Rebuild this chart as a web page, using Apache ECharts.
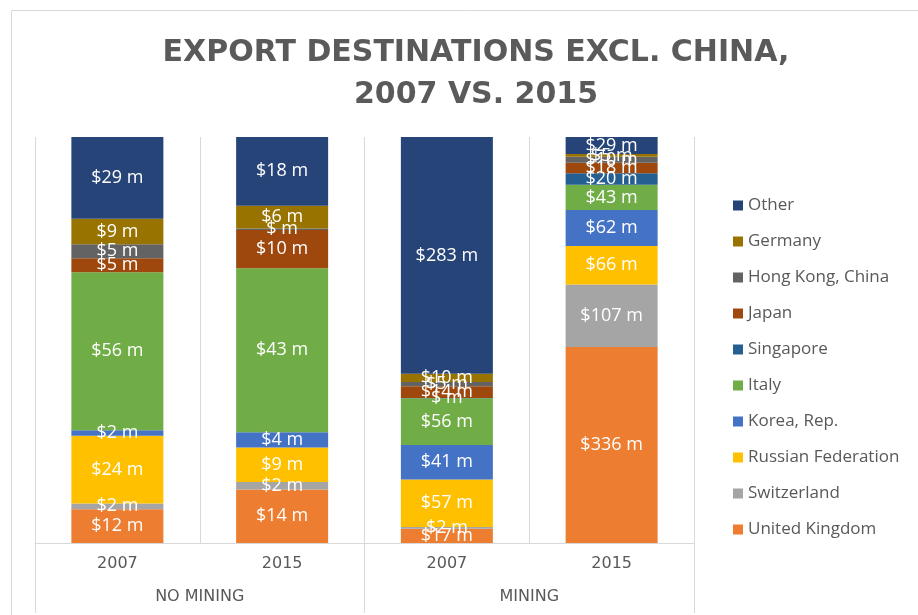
<!DOCTYPE html>
<html>
<head>
<meta charset="utf-8">
<script src="https://cdn.jsdelivr.net/npm/echarts@6/dist/echarts.min.js"></script>
<style>
  html, body { margin: 0; padding: 0; background: #fff; }
  #chart { width: 918px; height: 615px; }
</style>
</head>
<body>
<div id="chart"></div>
<script>
// values in $ million
var categories = ['2007', '2015', '2007', '2015'];
var groups = ['NO MINING', 'MINING'];

var unitedKingdom = [12, 14, 17, 336];
var switzerland = [2, 2, 2, 107];
var russia = [24, 9, 57, 66];
var korea = [2, 4, 41, 62];
var italy = [56, 43, 56, 43];
var singapore = [null, null, 0.3, 20];
var japan = [5, 10, 14, 18];
var hongKong = [5, 0.4, 5, 10];
var germany = [9, 6, 10, 5];
var other = [29, 18, 283, 29];

// bottom to top
var seriesList = [
    { name: 'United Kingdom', values: unitedKingdom, color: '#ED7D31' },
    { name: 'Switzerland', values: switzerland, color: '#A5A5A5' },
    { name: 'Russian Federation', values: russia, color: '#FFC000' },
    { name: 'Korea, Rep.', values: korea, color: '#4472C4' },
    { name: 'Italy', values: italy, color: '#70AD47' },
    { name: 'Singapore', values: singapore, color: '#255E91' },
    { name: 'Japan', values: japan, color: '#9E480E' },
    { name: 'Hong Kong, China', values: hongKong, color: '#636363' },
    { name: 'Germany', values: germany, color: '#997300' },
    { name: 'Other', values: other, color: '#264478' }
];

// column totals, for the 100% stack
var totals = categories.map(function (c, i) {
    var sum = 0;
    seriesList.forEach(function (s) { sum += s.values[i] || 0; });
    return sum;
});

var chart = echarts.init(document.getElementById('chart'));

var series = seriesList.map(function (s) {
    return {
        name: s.name,
        type: 'bar',
        stack: 'total',
        barWidth: 92,
        itemStyle: { color: s.color },
        label: {
            show: true,
            position: 'inside',
            color: '#fff',
            fontFamily: 'Open Sans',
            fontSize: 18,
            formatter: function (p) {
                var r = Math.round(s.values[p.dataIndex]);
                return '$' + (r ? r : '') + ' m';
            }
        },
        data: s.values.map(function (v, i) {
            return v === null ? null : v / totals[i] * 100;
        })
    };
});

chart.setOption({
    animation: false,
    title: {
        text: 'EXPORT DESTINATIONS EXCL. CHINA,\n2007 VS. 2015',
        left: 471,
        textAlign: 'center',
        top: 27,
        textStyle: {
            fontFamily: 'DejaVu Sans',
            fontWeight: 'bold',
            fontSize: 30,
            lineHeight: 42,
            color: '#5a5a5a'
        }
    },
    legend: {
        orient: 'vertical',
        left: 728,
        top: 192,
        icon: 'rect',
        itemWidth: 10,
        itemHeight: 10,
        itemGap: 19,
        itemTextGap: 6,
        selectedMode: false,
        textStyle: {
            fontFamily: 'Open Sans',
            fontSize: 17,
            lineHeight: 17,
            color: '#595959'
        },
        data: seriesList.map(function (s) { return s.name; }).reverse()
    },
    grid: { left: 35, right: 224, top: 137, bottom: 72 },
    xAxis: [{
        type: 'category',
        data: categories,
        axisLine: { lineStyle: { color: '#d9d9d9' } },
        axisTick: { show: false },
        splitLine: { show: true, lineStyle: { color: '#d9d9d9' } },
        axisLabel: {
            margin: 13,
            fontFamily: 'DejaVu Sans',
            fontSize: 16,
            color: '#595959'
        }
    }, {
        type: 'category',
        position: 'bottom',
        data: groups,
        axisLine: { show: false },
        axisTick: { show: true, length: 70, lineStyle: { color: '#d9d9d9' } },
        axisLabel: {
            margin: 46,
            fontFamily: 'DejaVu Sans',
            fontSize: 16,
            color: '#595959'
        }
    }],
    yAxis: { type: 'value', min: 0, max: 100, show: false },
    graphic: [{
        type: 'rect',
        shape: { x: 11.5, y: 10.5, width: 920, height: 620 },
        style: { fill: null, stroke: '#d9d9d9', lineWidth: 1 },
        silent: true
    }],
    series: series
});
</script>
</body>
</html>
